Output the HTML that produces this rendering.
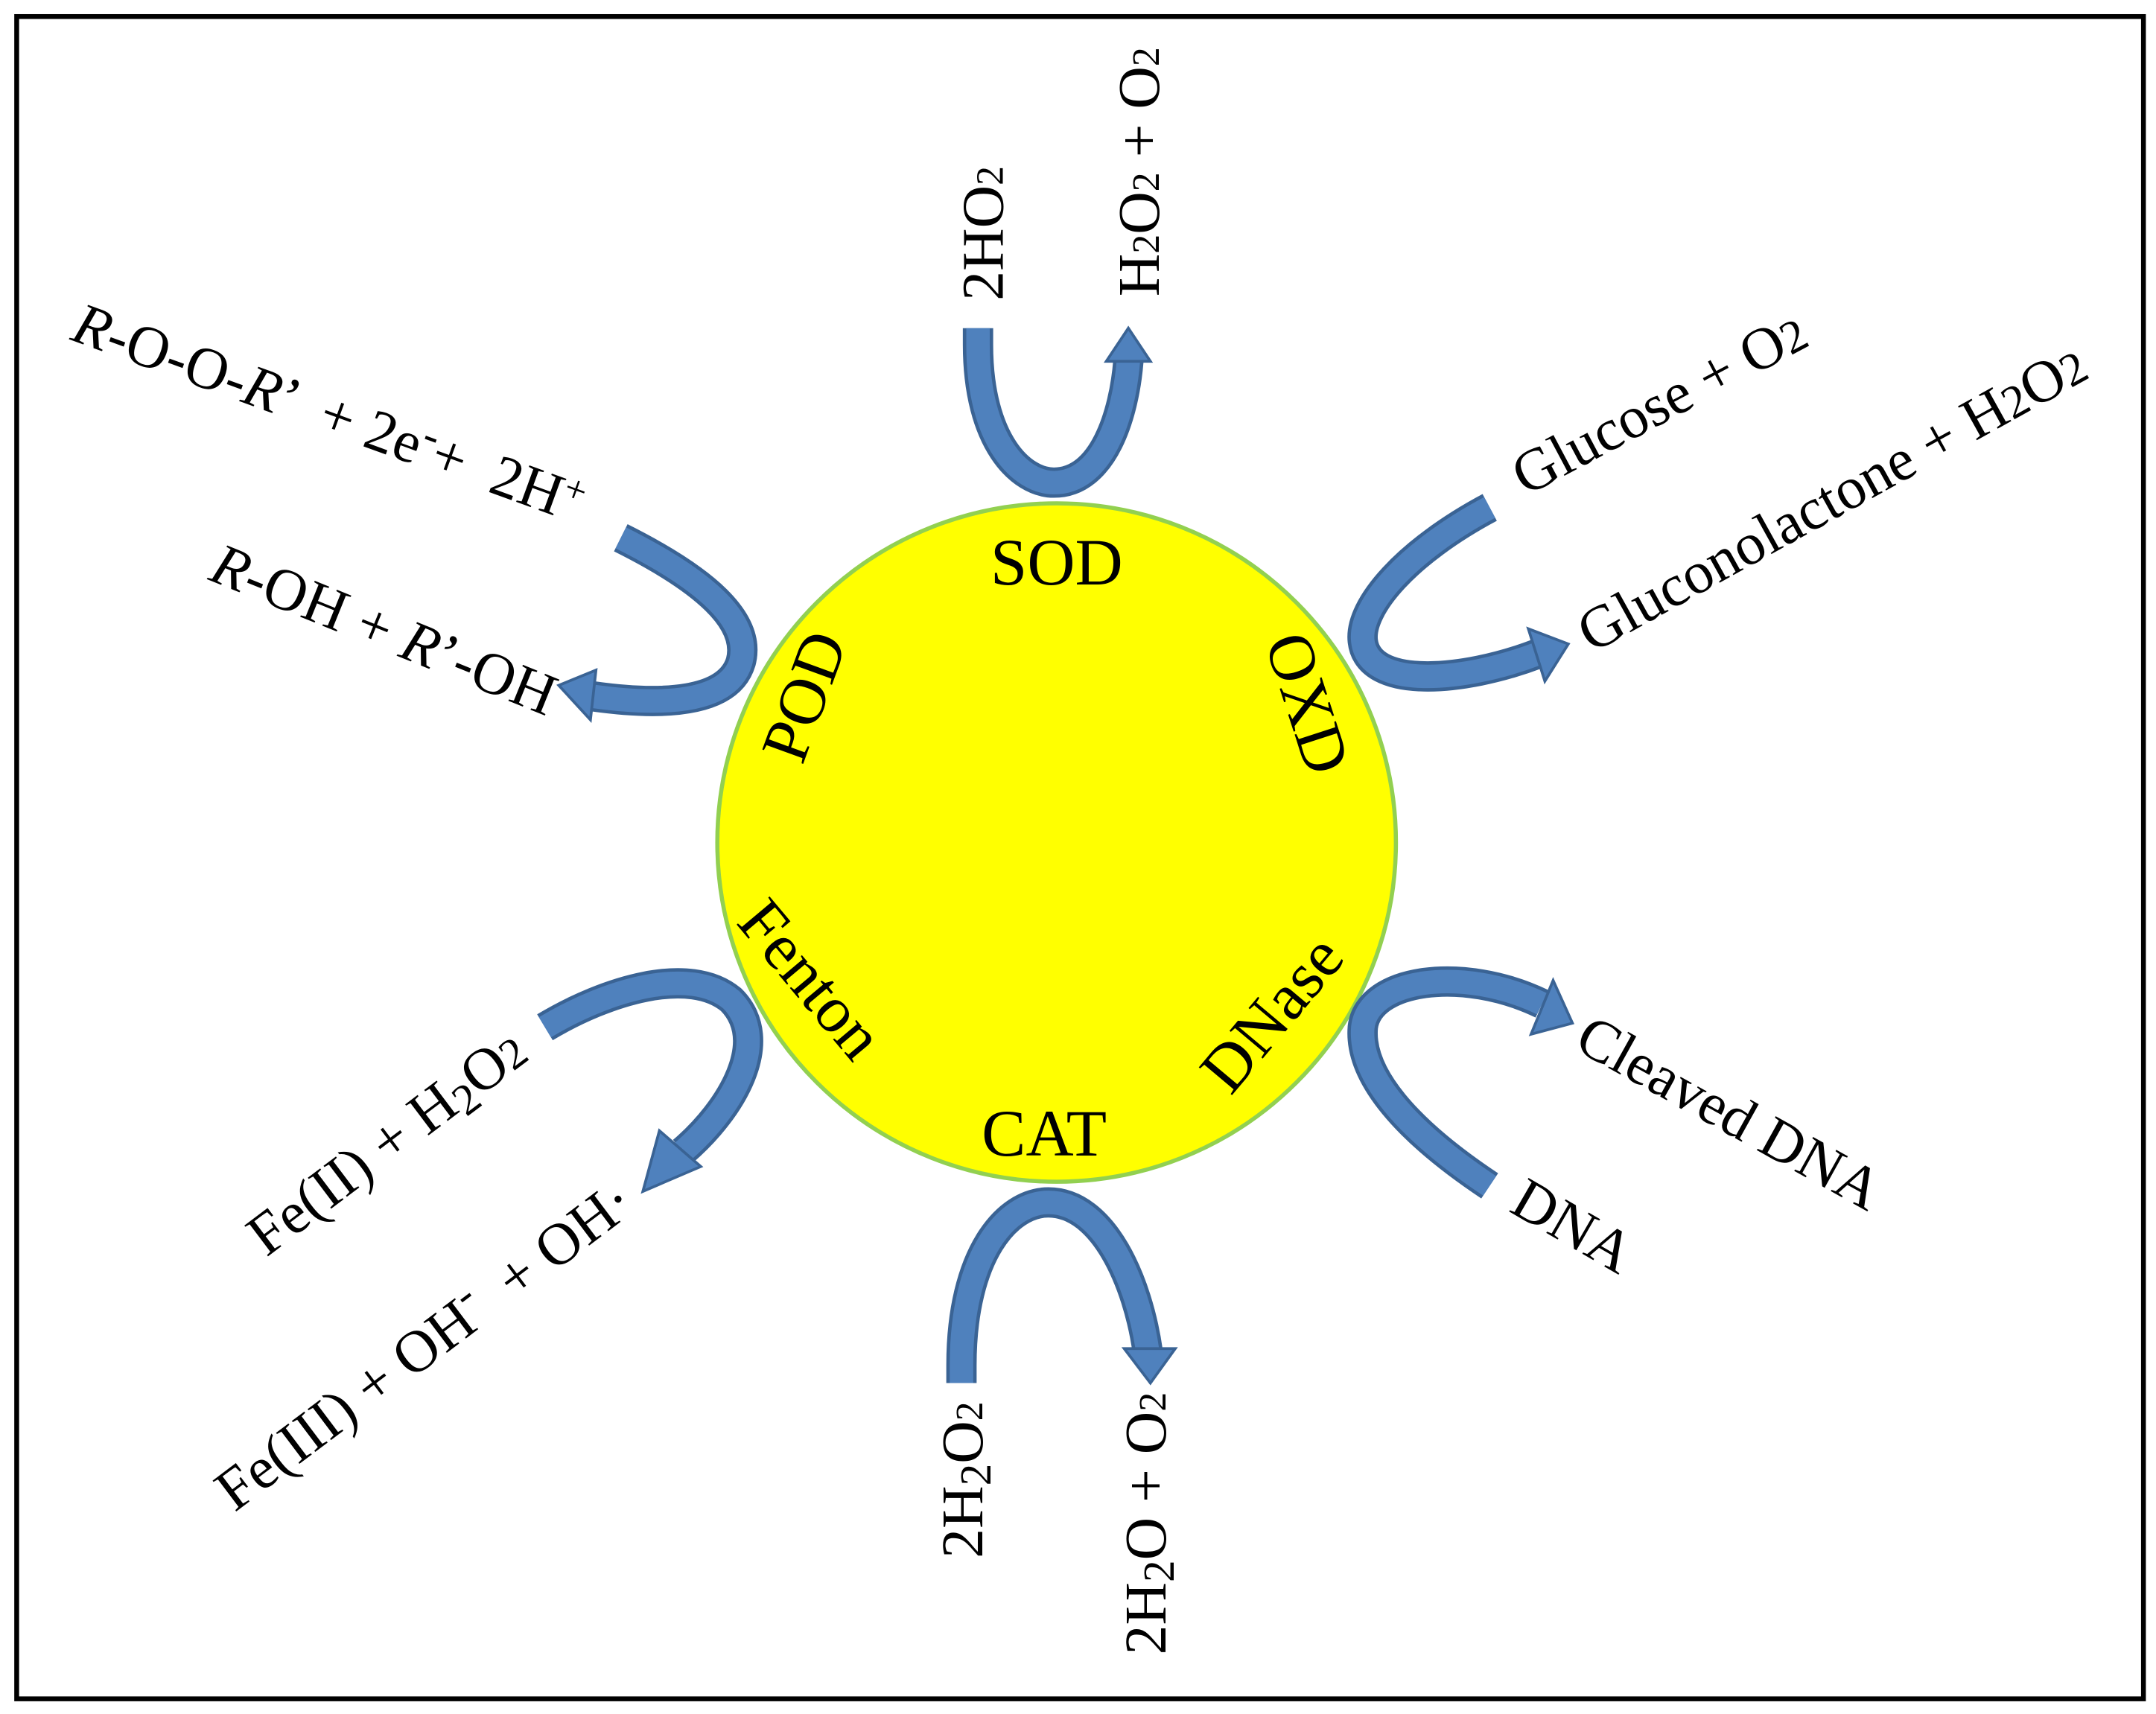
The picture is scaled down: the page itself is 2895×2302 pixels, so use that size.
<!DOCTYPE html>
<html><head><meta charset="utf-8"><style>html,body{margin:0;padding:0;background:#fff}svg{display:block}</style></head>
<body>
<svg width="2895" height="2302" viewBox="0 0 1563 1243" xmlns="http://www.w3.org/2000/svg" font-family="'Liberation Serif', serif">
<rect x="12" y="12" width="1542" height="1220" fill="#fff" stroke="#000" stroke-width="3.5"/>
<circle cx="766" cy="611" r="246" fill="#ffff00" stroke="#92d050" stroke-width="3"/>
<g fill="none" stroke-linecap="butt">
 <g stroke="#3a6394" stroke-width="22">
  <path d="M709,238 L709,250 C709,320 740,350 764,350 C800,350 815,300 818,262"/>
  <path d="M697,1003 L697,990 C697,910 730,872 760,872 C800,872 825,930 832,980"/>
  <path d="M395,745 C440,718 500,700 530,725 C560,755 530,805 495,835"/>
  <path d="M450,390 C510,420 545,450 537,480 C528,510 480,512 430,505"/>
  <path d="M1080,368 C1020,400 985,440 988,465 C992,500 1060,495 1115,474"/>
  <path d="M1080,860 C1020,820 985,780 988,745 C992,710 1060,700 1118,728"/>
 </g>
 <g stroke="#4f81bd" stroke-width="17">
  <path d="M709,238 L709,250 C709,320 740,350 764,350 C800,350 815,300 818,262"/>
  <path d="M697,1003 L697,990 C697,910 730,872 760,872 C800,872 825,930 832,980"/>
  <path d="M395,745 C440,718 500,700 530,725 C560,755 530,805 495,835"/>
  <path d="M450,390 C510,420 545,450 537,480 C528,510 480,512 430,505"/>
  <path d="M1080,368 C1020,400 985,440 988,465 C992,500 1060,495 1115,474"/>
  <path d="M1080,860 C1020,820 985,780 988,745 C992,710 1060,700 1118,728"/>
 </g>
</g>
<g fill="#4f81bd" stroke="#3a6394" stroke-width="2">
 <polygon points="802,262 834,262 818,238"/>
 <polygon points="815,978 852,978 834,1003"/>
 <polygon points="478,820 508,846 466,864"/>
 <polygon points="432,486 428,522 405,497"/>
 <polygon points="1108,456 1120,494 1137,467"/>
 <polygon points="1126,711 1110,750 1140,742"/>
</g>
<g fill="#000" font-size="48" text-anchor="middle">
 <text x="766" y="424">SOD</text>
 <text x="757" y="838">CAT</text>
 <text transform="translate(583,505) rotate(-70)" y="16">POD</text>
 <text transform="translate(948,510) rotate(72)" y="16">OXD</text>
 <text transform="translate(588,710) rotate(50)" y="16">Fenton</text>
 <text transform="translate(922,735) rotate(-50)" y="16">DNase</text>
</g>
<g fill="#000" font-size="43">
 <text transform="translate(727,218) rotate(-90)">2HO<tspan font-size="28">2</tspan></text>
 <text transform="translate(840,215) rotate(-90)">H<tspan font-size="28">2</tspan>O<tspan font-size="28">2</tspan> + O<tspan font-size="28">2</tspan></text>
 <text transform="translate(1106,360) rotate(-28)">Glucose + O<tspan font-size="34">2</tspan></text>
 <text transform="translate(1154,474) rotate(-29)">Gluconolactone + H<tspan font-size="34">2</tspan>O<tspan font-size="34">2</tspan></text>
 <text transform="translate(50,246) rotate(20)" xml:space="preserve"><tspan font-style="italic">R</tspan>-O-O-<tspan font-style="italic">R</tspan>’  + 2e<tspan dy="-14" font-size="32">-</tspan><tspan dy="14">+  2H</tspan><tspan dy="-14" font-size="28">+</tspan></text>
 <text transform="translate(150,420) rotate(22)"><tspan font-style="italic">R</tspan>-OH + <tspan font-style="italic">R</tspan>’-OH</text>
 <text transform="translate(193,912) rotate(-37)">Fe(II) + H<tspan font-size="32" dy="6">2</tspan><tspan dy="-6">O</tspan><tspan font-size="32">2</tspan></text>
 <text transform="translate(170,1097) rotate(-37)" xml:space="preserve">Fe(III) + OH<tspan dy="-16" font-size="32">-</tspan><tspan dy="16">  + OH·</tspan></text>
 <text transform="translate(712,1130) rotate(-90)">2H<tspan font-size="32" dy="6">2</tspan><tspan dy="-6">O</tspan><tspan font-size="28">2</tspan></text>
 <text transform="translate(845,1200) rotate(-90)">2H<tspan font-size="32" dy="6">2</tspan><tspan dy="-6">O + O</tspan><tspan font-size="28">2</tspan></text>
 <text transform="translate(1140,760) rotate(29)">Cleaved DNA</text>
 <text transform="translate(1093,878) rotate(30)">DNA</text>
</g>
</svg>
</body></html>
